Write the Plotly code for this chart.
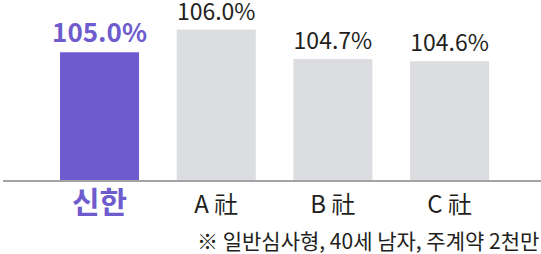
import plotly.graph_objects as go

categories = ["신한", "A 社", "B 社", "C 社"]
values = [105.0, 106.0, 104.7, 104.6]
value_labels = ["105.0%", "106.0%", "104.7%", "104.6%"]
footnote = "※ 일반심사형, 40세 남자, 주계약 2천만"

PURPLE = "#6e5bcd"
GRAY = "#dcdde0"
DARK = "#231f20"

bar_colors = [PURPLE, GRAY, GRAY, GRAY]
text_colors = [PURPLE, DARK, DARK, DARK]

ticktext = [
    f"<span style='font-size:30px;color:{PURPLE}'><b>{categories[0]}</b></span>",
] + [f"<span style='color:{DARK}'>{c}</span>" for c in categories[1:]]

fig = go.Figure()
fig.add_trace(go.Bar(
    x=list(range(len(categories))),
    y=values,
    marker=dict(color=bar_colors, line=dict(width=0)),
    text=[f"<b>{value_labels[0]}</b>"] + value_labels[1:],
    textposition="outside",
    constraintext="none",
    textfont=dict(family="Noto Sans CJK KR", size=[26, 23, 23, 23], color=text_colors),
    cliponaxis=False,
    hoverinfo="skip",
))

fig.update_layout(
    width=541, height=254,
    margin=dict(l=3, r=0, t=0, b=74, autoexpand=False),
    paper_bgcolor="white", plot_bgcolor="white",
    bargap=0.323,
    showlegend=False,
    font=dict(family="Noto Sans CJK KR", color=DARK),
    xaxis=dict(
        range=[-0.827, 3.783],
        tickvals=list(range(len(categories))),
        ticktext=ticktext,
        tickfont=dict(size=24, color=DARK, family="Noto Sans CJK KR"),
        showline=True, linecolor="#a3a3a3", linewidth=2,
        showgrid=False, zeroline=False, ticks="", ticklabelstandoff=2,
        fixedrange=True, automargin=False,
    ),
    yaxis=dict(
        range=[99.35, 107.31],
        visible=False, showgrid=False, zeroline=False, fixedrange=True,
    ),
    annotations=[dict(
        text=footnote, xref="paper", yref="paper",
        x=0.9995, y=-0.333, xanchor="right", yanchor="middle",
        showarrow=False,
        font=dict(size=21, color=DARK, family="Noto Sans CJK KR"),
    )],
)

fig.write_html(
    "out.html",
    config={"displayModeBar": False},
    post_script="document.body.style.margin='0';document.body.style.overflow='hidden';",
)
